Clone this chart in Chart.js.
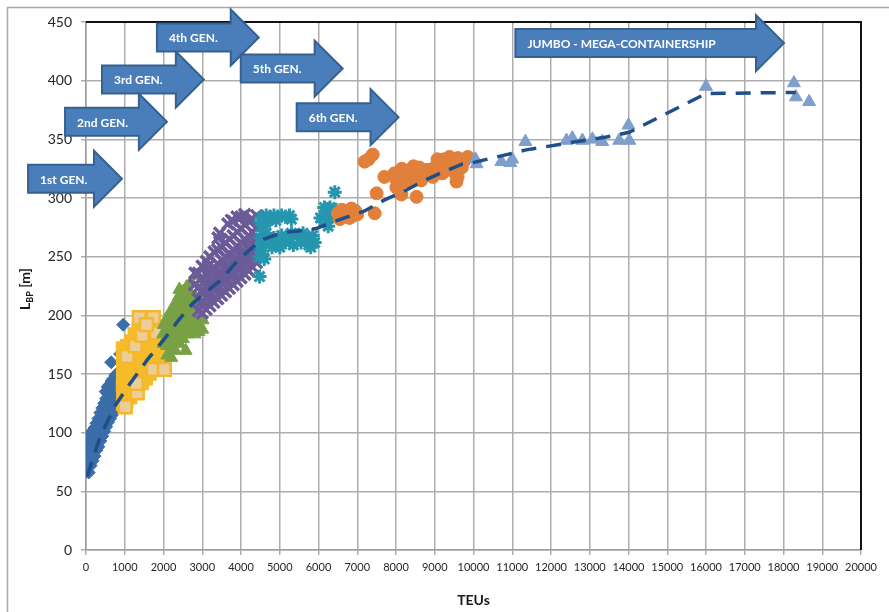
<!DOCTYPE html>
<html>
<head>
<meta charset="utf-8">
<script src="https://cdn.jsdelivr.net/npm/chart.js@4.4.1/dist/chart.umd.min.js"></script>
<style>
  html, body { margin: 0; padding: 0; background: #fff; }
  canvas { display: block; }
</style>
</head>
<body>
<canvas id="lbpChart" width="889" height="612"></canvas>
<script>
// ships: [TEU, L_BP in m]
const gen1Points = [
  [20,67],[25,75],[15,83],[30,91],
  [70,66],[65,76],[75,84],[70,92],[60,98],
  [120,72],[115,80],[125,88],[120,96],
  [170,76],[165,84],[175,93],[170,100],
  [220,80],[215,88],[225,96],[220,104],
  [270,85],[265,92],[275,100],[270,108],
  [320,88],[315,97],[325,104],[320,112],
  [370,93],[365,101],[375,109],[370,117],
  [420,97],[415,105],[425,113],[420,121],
  [470,101],[465,109],[475,117],[470,125],
  [520,105],[515,113],[525,121],[520,129],[510,135],
  [570,109],[565,117],[575,125],[570,133],[560,139],
  [620,112],[615,120],[625,128],[620,136],[610,141],
  [670,115],[665,123],[675,131],[670,139],[660,144],
  [720,118],[715,126],[725,134],[720,142],[710,146],
  [770,121],[765,129],[775,137],[770,145],[760,149],
  [820,124],[815,132],[825,140],[820,148],
  [870,127],[865,135],[875,143],[870,151],
  [920,131],[915,139],[925,147],[920,154],
  [960,134],[955,142],[965,150],
  [650,160],[880,167],[960,192]
];
const gen2Points = [
  [950,124],[955,132],[945,140],[950,148],[955,156],[950,164],[945,172],
  [1050,126],[1045,134],[1055,142],[1050,150],[1045,158],[1055,166],[1050,174],
  [1150,130],[1155,138],[1145,146],[1150,154],[1155,162],[1145,170],[1150,178],
  [1250,136],[1245,144],[1255,152],[1250,160],[1245,168],[1255,176],[1250,184],
  [1350,140],[1355,148],[1345,156],[1350,164],[1355,172],[1345,180],[1350,188],
  [1450,142],[1445,150],[1455,158],[1450,166],[1445,174],[1455,182],[1450,190],
  [1550,146],[1555,154],[1545,162],[1550,170],[1555,178],[1545,186],
  [1650,150],[1645,158],[1655,166],[1650,174],[1645,182],[1655,190],
  [1750,154],[1755,162],[1745,170],[1750,178],[1755,186],
  [1850,156],[1845,164],[1855,172],[1850,180],[1845,188],
  [1950,158],[1955,166],[1945,174],[1950,182]
];
const gen2PalePoints = [
  [1012,122],[1323,134],[1297,142],[1738,154],[2023,154],[1375,198],
  [1738,198],[1063,165],[1271,174],[1453,183],[1816,185],[1560,192]
];
const gen3Points = [
  [2000,176],[1990,184],[2010,192],
  [2100,166],[2090,174],[2110,182],[2100,190],[2095,198],
  [2200,164],[2210,172],[2190,180],[2200,188],[2205,196],[2195,204],
  [2300,170],[2290,178],[2310,186],[2300,194],[2295,202],[2305,210],
  [2400,176],[2410,184],[2390,192],[2400,200],[2405,208],[2395,216],[2410,222],
  [2500,180],[2490,188],[2510,196],[2500,204],[2495,212],[2505,220],
  [2600,184],[2610,192],[2590,200],[2600,208],[2605,216],[2595,224],
  [2700,186],[2690,194],[2710,202],[2700,210],[2695,218],[2705,228],
  [2800,184],[2810,192],[2790,200],[2800,208],[2805,216],[2830,234],
  [2900,186],[2890,194],[2910,202],[2900,210],
  [3000,188],[3010,196],
  [2570,170]
];
const gen4Points = [
  [2800,226],[2810,236],
  [2900,204],[2890,214],[2910,224],[2900,236],
  [3000,202],[2990,212],[3010,222],[3000,232],[2995,242],
  [3100,205],[3110,215],[3090,225],[3100,235],[3105,246],
  [3200,208],[3190,218],[3210,228],[3200,238],[3195,250],
  [3300,211],[3310,221],[3290,231],[3300,241],[3305,254],
  [3400,214],[3390,224],[3410,234],[3400,244],[3395,256],[3405,266],
  [3500,217],[3510,227],[3490,237],[3500,247],[3505,258],
  [3600,220],[3590,230],[3610,240],[3600,250],[3595,262],[3660,278],
  [3700,223],[3710,233],[3690,243],[3700,253],[3705,265],
  [3800,226],[3790,236],[3810,246],[3800,256],[3795,268],[3805,280],
  [3900,229],[3910,239],[3890,249],[3900,259],[3905,271],[3895,284],
  [4000,232],[3990,242],[4010,252],[4000,262],[3995,274],[4005,284],
  [4100,235],[4110,245],[4090,255],[4100,265],[4105,277],[4095,286],
  [4200,238],[4190,248],[4210,258],[4200,268],[4205,280],
  [4300,241],[4310,251],[4290,261],[4300,271],[4295,282],
  [4400,245],[4390,255],[4410,265],[4400,275],[4405,285],
  [3450,270],[3150,242],[3750,281]
];
const gen5Points = [
  [4550,284],[4650,285],[4750,284],[4850,285],[4950,284],[5050,285],
  [5150,284],[5250,285],[5300,282],[4700,281],[4900,281],
  [4500,280],[4550,272],[4500,266],[4600,262],[4500,258],[4550,252],
  [4600,248],[4480,250],[4650,270],[4600,276],
  [4750,262],[4850,266],[4950,260],[5050,268],[5150,262],[5250,266],
  [5350,260],[5450,268],[5550,262],[5650,266],[5750,260],[5850,268],
  [5900,262],[5000,258],[5300,270],[5600,270],[5800,258],[4800,258],
  [4480,233],
  [6050,283],[6150,280],[6200,288],[6250,276],[6300,292],[6350,284],
  [6450,290],[6420,305],[6150,292]
];
const gen6Points = [
  [6500,287],[6600,290],[6650,284],[6750,288],[6850,291],[6900,285],
  [6950,289],[6550,282],[6800,283],[7000,286],[7450,287],
  [7290,333],[7400,337],[7190,331],[7700,318],[7500,304],
  [7960,321],[8270,322],[8600,326],[8010,309],[8140,303],[8530,301],
  [9070,333],[9380,335],[9590,318],[9560,314],[9200,321],
  [8100,312],[8200,318],[8300,314],[8400,320],[8500,316],[8700,320],
  [8800,324],[8900,322],[9000,326],[9100,328],[9300,330],[8000,316],
  [8150,325],[8450,327],[8650,315],[8950,318],[9250,333],[9450,331],
  [9500,322],[9600,334],[9750,331],[9850,335],[9700,326],[9450,325]
];
const jumboPoints = [
  [10050,333],[10080,329],[10720,331],[10950,330],[11000,333],[11340,348],
  [12400,349],[12550,351],[12810,349],[13070,350],[13320,348],[13760,349],
  [14020,349],[14000,362],[16000,395],[18270,398],[18320,386],[18660,382]
];
const trendTeu = [30, 360, 750, 1140, 1580, 2050, 2390, 2750, 3140, 3480, 3790, 4000,
  4200, 4510, 4850, 5210, 5550, 5940, 6250, 6670, 7190, 7680, 8220, 8740, 9200,
  9720, 9970, 11360, 12470, 13430, 14020, 16000, 18320];
const trendLbp = [63, 96, 123, 142, 162, 181, 196, 210, 221, 230, 242, 249,
  255, 264, 268, 271, 272, 274, 278, 283, 289, 298, 306, 315, 322,
  329, 330, 341, 347, 352, 356, 389, 390];

// generation arrows (tail / tip in TEU, centre in m)
const arrowLabels = ['1st GEN.', '2nd GEN.', '3rd GEN.', '4th GEN.', '5th GEN.', '6th GEN.', 'JUMBO - MEGA-CONTAINERSHIP'];
const arrowFromTeu = [-1495, -541, 412, 1830, 3994, 5437, 11081];
const arrowToTeu = [928, 2087, 3041, 4458, 6623, 8066, 18013];
const arrowLbp = [316.4, 365, 401, 436.8, 410.3, 368.9, 432];

const toXY = pts => pts.map(p => ({ x: p[0], y: p[1] }));

Chart.defaults.font.family = 'Lato, "Liberation Sans", sans-serif';
Chart.defaults.color = '#262626';

const decorations = {
    id: 'decorations',
    beforeDraw(chart) {
        const ctx = chart.ctx;
        ctx.save();
        ctx.strokeStyle = '#a8a8a8';
        ctx.lineWidth = 1.5;
        ctx.beginPath();
        ctx.moveTo(7.5, 612);
        ctx.lineTo(7.5, 7.5);
        ctx.lineTo(889, 7.5);
        ctx.stroke();
        ctx.restore();
    },
    beforeDatasetsDraw(chart) {
        const ctx = chart.ctx;
        const a = chart.chartArea;
        ctx.save();
        ctx.strokeStyle = '#111';
        ctx.lineWidth = 2;
        ctx.beginPath();
        ctx.moveTo(a.left, a.top);
        ctx.lineTo(a.right, a.top);
        ctx.lineTo(a.right, a.bottom);
        ctx.stroke();
        ctx.restore();
    },
    afterDraw(chart) {
        const ctx = chart.ctx;
        const xs = chart.scales.x, ys = chart.scales.y;
        ctx.save();
        arrowLabels.forEach((text, i) => {
            const x0 = xs.getPixelForValue(arrowFromTeu[i]);
            const tip = xs.getPixelForValue(arrowToTeu[i]);
            const yc = ys.getPixelForValue(arrowLbp[i]);
            const base = tip - 28;
            ctx.beginPath();
            ctx.moveTo(x0, yc - 14);
            ctx.lineTo(base, yc - 14);
            ctx.lineTo(base, yc - 28);
            ctx.lineTo(tip, yc);
            ctx.lineTo(base, yc + 28);
            ctx.lineTo(base, yc + 14);
            ctx.lineTo(x0, yc + 14);
            ctx.closePath();
            ctx.fillStyle = '#4a7ebb';
            ctx.fill();
            ctx.strokeStyle = '#36618f';
            ctx.lineWidth = 2;
            ctx.stroke();
            ctx.fillStyle = '#ffffff';
            ctx.font = 'bold 12px Lato, sans-serif';
            ctx.textAlign = 'left';
            ctx.textBaseline = 'middle';
            ctx.fillText(text, x0 + 12, yc + 1);
        });

        // y axis title with subscript
        ctx.translate(25, 289);
        ctx.rotate(-Math.PI / 2);
        ctx.fillStyle = '#1a1a1a';
        ctx.textBaseline = 'alphabetic';
        ctx.textAlign = 'left';
        const big = 'bold 14px Lato, sans-serif';
        const small = 'bold 9px Lato, sans-serif';
        ctx.font = big;
        const wL = ctx.measureText('L').width;
        const wM = ctx.measureText(' [m]').width;
        ctx.font = small;
        const wS = ctx.measureText('BP').width;
        let x = -(wL + wS + wM) / 2;
        ctx.font = big;
        ctx.fillText('L', x, 5);
        ctx.font = small;
        ctx.fillText('BP', x + wL, 8);
        ctx.font = big;
        ctx.fillText(' [m]', x + wL + wS, 5);
        ctx.restore();
    }
};

const gridColor = '#adadad';

new Chart(document.getElementById('lbpChart'), {
    type: 'scatter',
    data: {
        datasets: [
            {
                label: 'Trend',
                data: trendTeu.map((t, i) => ({ x: t, y: trendLbp[i] })),
                showLine: true,
                pointRadius: 0,
                borderColor: '#1f4e88',
                borderWidth: 3.5,
                borderDash: [15, 10],
                tension: 0,
                order: 1
            },
            {
                label: 'Jumbo',
                data: toXY(jumboPoints),
                pointStyle: 'triangle',
                pointRadius: 7.5,
                backgroundColor: '#7e9ecc',
                borderColor: '#7e9ecc',
                borderWidth: 1,
                order: 2
            },
            {
                label: '6th GEN.',
                data: toXY(gen6Points),
                pointStyle: 'circle',
                pointRadius: 6.5,
                backgroundColor: '#e0803a',
                borderColor: '#e0803a',
                borderWidth: 1,
                order: 3
            },
            {
                label: '5th GEN.',
                data: toXY(gen5Points),
                pointStyle: 'star',
                pointRadius: 7,
                backgroundColor: '#2596ae',
                borderColor: '#2596ae',
                borderWidth: 3,
                order: 4
            },
            {
                label: '4th GEN.',
                data: toXY(gen4Points),
                pointStyle: 'crossRot',
                pointRadius: 8,
                backgroundColor: '#6b5b98',
                borderColor: '#6b5b98',
                borderWidth: 3.5,
                order: 5
            },
            {
                label: '3rd GEN.',
                data: toXY(gen3Points),
                pointStyle: 'triangle',
                pointRadius: 7.5,
                backgroundColor: '#78a145',
                borderColor: '#78a145',
                borderWidth: 1,
                order: 6
            },
            {
                label: '2nd GEN. (light)',
                data: toXY(gen2PalePoints),
                pointStyle: 'rect',
                pointRadius: 9,
                backgroundColor: '#ebcd98',
                borderColor: '#f5b82a',
                borderWidth: 2.5,
                order: 7
            },
            {
                label: '2nd GEN.',
                data: toXY(gen2Points),
                pointStyle: 'rect',
                pointRadius: 9,
                backgroundColor: '#f6bb2b',
                borderColor: '#f6bb2b',
                borderWidth: 1,
                order: 8
            },
            {
                label: '1st GEN.',
                data: toXY(gen1Points),
                pointStyle: 'rectRot',
                pointRadius: 6.5,
                backgroundColor: '#3b6da9',
                borderColor: '#3b6da9',
                borderWidth: 1,
                order: 9
            }
        ]
    },
    options: {
        responsive: false,
        animation: false,
        devicePixelRatio: 1,
        events: [],
        layout: { padding: { top: 22, right: 28, left: 0, bottom: 0 } },
        plugins: {
            legend: { display: false },
            tooltip: { enabled: false }
        },
        scales: {
            x: {
                type: 'linear',
                min: 0,
                max: 20000,
                afterFit: s => { s.height = 62; },
                grid: { color: gridColor, lineWidth: 1.5, tickLength: 5 },
                border: { color: '#9e9e9e', width: 1.5 },
                ticks: {
                    stepSize: 1000,
                    autoSkip: false,
                    maxRotation: 0,
                    minRotation: 0,
                    padding: 6,
                    font: { size: 11 },
                    callback: v => String(v)
                },
                title: {
                    display: true,
                    text: 'TEUs',
                    font: { size: 14, weight: 'bold' },
                    color: '#1a1a1a',
                    padding: { top: 0, bottom: 3 }
                }
            },
            y: {
                type: 'linear',
                min: 0,
                max: 450,
                afterFit: s => { s.width = 86; },
                grid: { color: gridColor, lineWidth: 1.5, tickLength: 5 },
                border: { color: '#9e9e9e', width: 1.5 },
                ticks: {
                    stepSize: 50,
                    padding: 9,
                    font: { size: 14 }
                }
            }
        }
    },
    plugins: [decorations]
});
</script>
</body>
</html>
